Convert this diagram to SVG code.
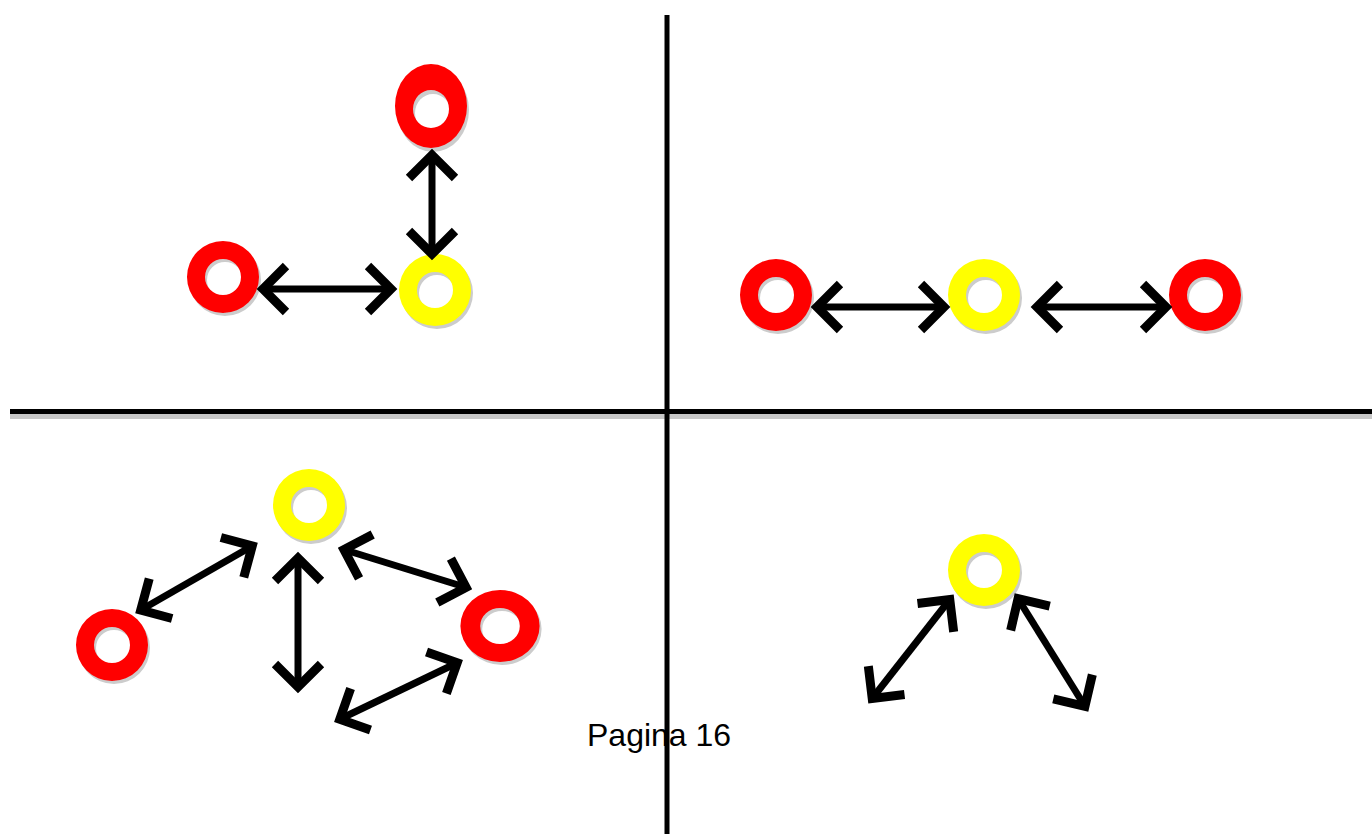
<svg xmlns="http://www.w3.org/2000/svg" width="1372" height="834" viewBox="0 0 1372 834">
<style>
.sh{fill:#cccccc}
.red{fill:#ff0000}
.yel{fill:#ffff00}
.arr{stroke:#000;stroke-width:7;fill:none;marker-start:url(#hd);marker-end:url(#hd)}
.lbl{font-family:"Liberation Sans",Arial,sans-serif;font-size:32px;fill:#000}
</style>
<defs>
<path id="ring" fill-rule="evenodd" d="M-36,0a36,36 0 1,0 72,0a36,36 0 1,0 -72,0ZM-18,0a18,18 0 1,0 36,0a18,18 0 1,0 -36,0Z"/>
<path id="ringT" fill-rule="evenodd" d="M-36,0a36,42 0 1,0 72,0a36,42 0 1,0 -72,0ZM-18,3a18,19 0 1,0 36,0a18,19 0 1,0 -36,0Z"/>
<marker id="hd" markerUnits="userSpaceOnUse" viewBox="-40 -40 60 80" refX="0" refY="0" markerWidth="60" markerHeight="80" orient="auto-start-reverse">
<path d="M-25,-23L-2,0L-25,23" fill="none" stroke="#000" stroke-width="9" stroke-linejoin="miter" stroke-miterlimit="10"/>
</marker>
</defs>
<rect width="1372" height="834" fill="#fff"/>
<text class="lbl" x="587" y="746">Pagina 16</text>
<g id="axes">
<line x1="10" y1="416.5" x2="1372" y2="416.5" stroke="#c8c8c8" stroke-width="5"/>
<line x1="10" y1="411.5" x2="1372" y2="411.5" stroke="#000" stroke-width="5"/>
<line x1="667" y1="15" x2="667" y2="834" stroke="#000" stroke-width="5"/>
</g>
<g id="tl-top"><use href="#ringT" class="sh" transform="translate(433,110)"/><use href="#ringT" class="red" transform="translate(431,106)"/></g>
<g id="tl-left"><use href="#ring" class="sh" transform="translate(225,280)"/><use href="#ring" class="red" transform="translate(223,277)"/></g>
<g id="tl-center"><use href="#ring" class="sh" transform="translate(437,293)"/><use href="#ring" class="yel" transform="translate(435,290)"/></g>
<g id="tr-left"><use href="#ring" class="sh" transform="translate(778,298)"/><use href="#ring" class="red" transform="translate(776,295)"/></g>
<g id="tr-center"><use href="#ring" class="sh" transform="translate(986,298)"/><use href="#ring" class="yel" transform="translate(984,295)"/></g>
<g id="tr-right"><use href="#ring" class="sh" transform="translate(1207,298)"/><use href="#ring" class="red" transform="translate(1205,295)"/></g>
<g id="bl-top"><use href="#ring" class="sh" transform="translate(311,508)"/><use href="#ring" class="yel" transform="translate(309,505)"/></g>
<g id="bl-left"><use href="#ring" class="sh" transform="translate(114,648)"/><use href="#ring" class="red" transform="translate(112,645)"/></g>
<g id="bl-right"><use href="#ring" class="sh" transform="translate(502,629) scale(1.1,1)"/><use href="#ring" class="red" transform="translate(500,626) scale(1.1,1)"/></g>
<g id="br-top"><use href="#ring" class="sh" transform="translate(986,573)"/><use href="#ring" class="yel" transform="translate(984,570)"/></g>
<g id="connectors">
<line class="arr" x1="261" y1="289" x2="393" y2="289"/>
<line class="arr" x1="432" y1="153" x2="432" y2="256"/>
<line class="arr" x1="815" y1="307" x2="946" y2="307"/>
<line class="arr" x1="1035" y1="307" x2="1168" y2="307"/>
<line class="arr" x1="139" y1="611" x2="254" y2="545"/>
<line class="arr" x1="298" y1="556" x2="298" y2="689"/>
<line class="arr" x1="342" y1="549" x2="468" y2="588"/>
<line class="arr" x1="338" y1="720" x2="459" y2="662"/>
<line class="arr" x1="871" y1="700" x2="951" y2="598"/>
<line class="arr" x1="1017" y1="597" x2="1086" y2="708"/>
</g>
</svg>
